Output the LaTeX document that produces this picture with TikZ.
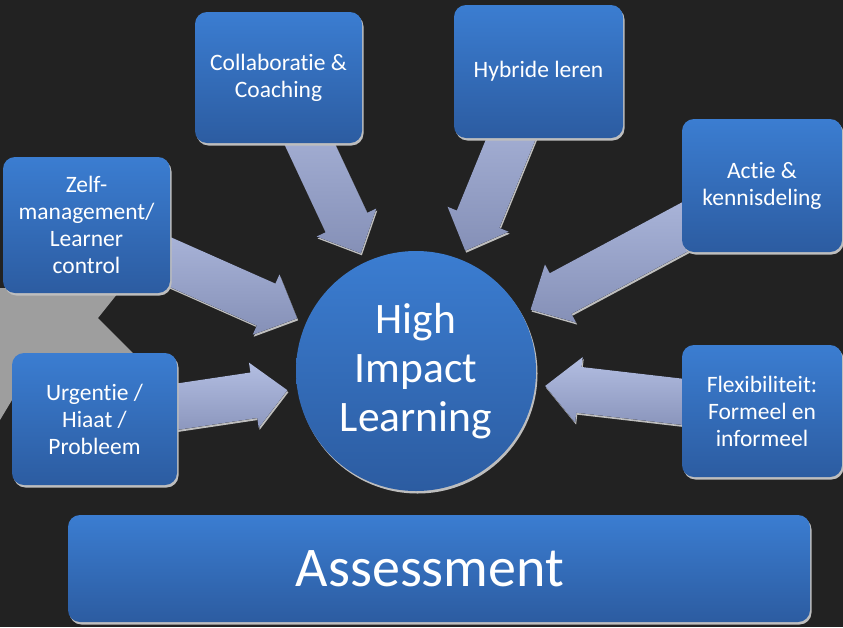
\documentclass[tikz,border=0pt]{standalone}
\usepackage{fontspec}
\setmainfont{Carlito}[Ligatures=NoCommon]
\usetikzlibrary{calc,shadows}
\definecolor{achter}{HTML}{222222}
\definecolor{vlak}{HTML}{9E9E9E}
\definecolor{blauwtop}{HTML}{3B7DD1}
\definecolor{blauwbodem}{HTML}{2C5CA1}
\definecolor{pijltop}{HTML}{B3BEE2}
\definecolor{pijlbodem}{HTML}{8590B7}
\definecolor{schaduw}{HTML}{BEBEBE}
\pgfdeclarelayer{achtergrond}
\pgfsetlayers{achtergrond,main}
\tikzset{
  schaduwrand/.style={drop shadow={shadow xshift=1.5pt,shadow yshift=-2.5pt,fill=schaduw,opacity=1}},
  blok/.style={rectangle,rounded corners=12pt,top color=blauwtop,bottom color=blauwbodem,text=white,
    align=center,inner sep=0pt,font=\fontsize{23.5}{27}\selectfont,schaduwrand},
  kern/.style={circle,top color=blauwtop,bottom color=blauwbodem,text=white,align=center,inner sep=0pt,
    minimum size=240pt,font=\fontsize{43.5}{49}\selectfont,schaduwrand},
  pijl/.style={top color=pijltop,bottom color=pijlbodem,
    drop shadow={shadow xshift=1pt,shadow yshift=-2pt,fill=schaduw,opacity=1}}
}
% block arrow from a box centre towards the circle
\newcommand\blokpijl[1]{%
  \coordinate (#1-t) at ($(hil.center)!130pt!(#1.center)$);
  \coordinate (#1-h) at ($(#1-t)!34pt!(#1.center)$);
  \fill[pijl] ($(#1.center)!23pt!90:(#1-t)$) -- ($(#1-h)!23pt!90:(#1-t)$) -- ($(#1-h)!33pt!90:(#1-t)$)
    -- (#1-t) -- ($(#1-h)!33pt!-90:(#1-t)$) -- ($(#1-h)!23pt!-90:(#1-t)$) -- ($(#1.center)!23pt!-90:(#1-t)$) -- cycle;}

\begin{document}
\begin{tikzpicture}[x=1pt,y=-1pt]
  \useasboundingbox (0,0) rectangle (843,627);

  \node[kern] (hil) at (416,371) {High\\Impact\\Learning};
  \node[blok,minimum width=167pt,minimum height=131pt] (collab) at (278.5,77.5) {Collaboratie \&\\Coaching};
  \node[blok,minimum width=169pt,minimum height=133pt] (hybride) at (538.5,71.5) {Hybride leren};
  \node[blok,minimum width=160pt,minimum height=133pt] (actie) at (762,185.5) {Actie \&\\kennisdeling};
  \node[blok,minimum width=167pt,minimum height=136pt] (zelf) at (86.5,225) {Zelf-\\management/\\Learner\\control};
  \node[blok,minimum width=165pt,minimum height=132pt] (urgentie) at (94.5,419) {Urgentie /\\Hiaat /\\Probleem};
  \node[blok,minimum width=160pt,minimum height=132pt] (flex) at (762,411) {Flexibiliteit:\\Formeel en\\informeel};
  \node[blok,minimum width=742pt,minimum height=107pt,font=\fontsize{56}{60}\selectfont] (assessment) at (439,568.5) {\hspace*{-18pt}Assessment};

  \begin{pgfonlayer}{achtergrond}
    \fill[achter] (0,0) rectangle (843,627);
    \fill[vlak] (0,288) -- (122,288) -- (98,318) -- (140,360) -- (12,400) -- (0,420) -- cycle;
    \foreach \bron in {collab,hybride,actie,zelf,urgentie,flex}
      {\blokpijl{\bron}}
  \end{pgfonlayer}
\end{tikzpicture}
\end{document}
